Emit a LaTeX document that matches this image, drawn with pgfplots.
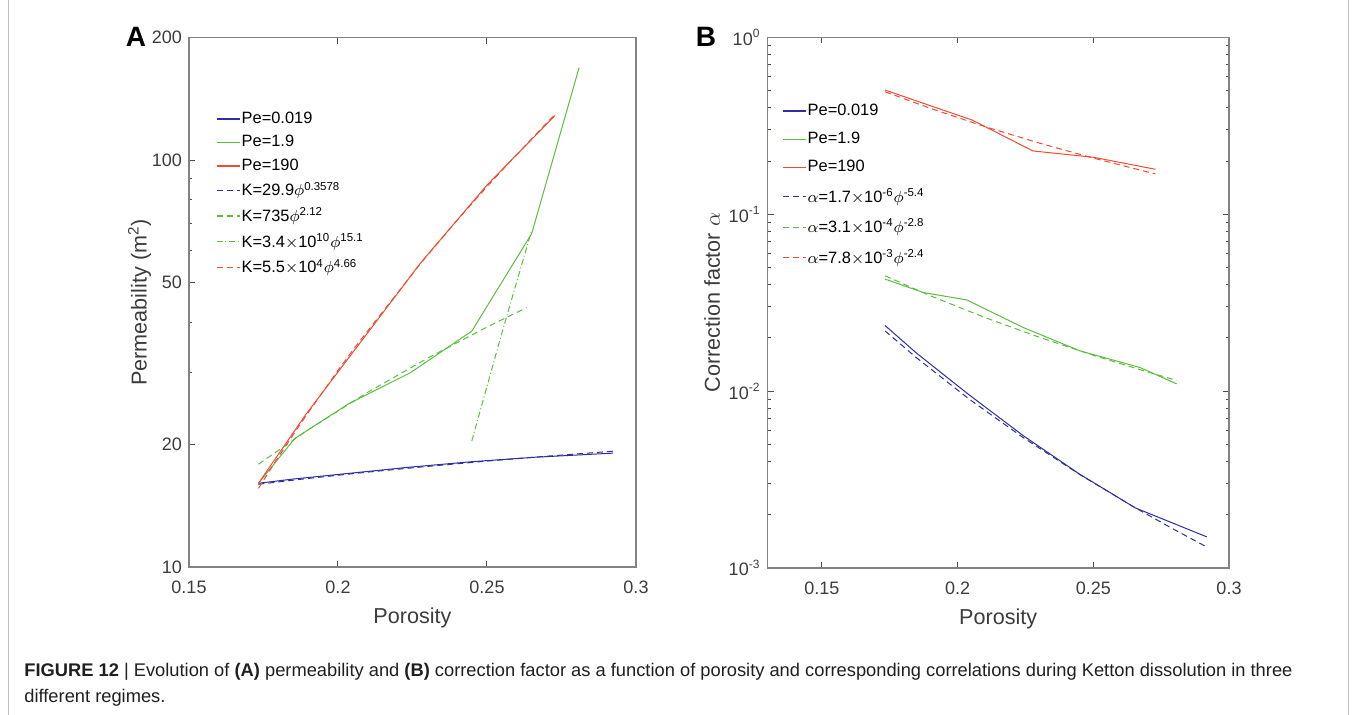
\documentclass[border=0pt]{standalone}
\usepackage{pgfplots}
\pgfplotsset{compat=1.18}
\usepackage{fontspec}
\setmainfont{Liberation Sans}
\definecolor{cblue}{RGB}{46,46,160}
\definecolor{cgreen}{RGB}{90,190,60}
\definecolor{cred}{RGB}{240,75,50}
\definecolor{axgray}{RGB}{130,130,130}
\definecolor{txtgray}{RGB}{60,60,60}
\tikzset{
 dsh/.style={dash pattern=on 3pt off 2pt},
 dshdot/.style={dash pattern=on 3pt off 1.3pt on 0.5pt off 1.3pt},
}
\begin{document}
\begin{tikzpicture}
\useasboundingbox (0,0) rectangle (678pt,-357.5pt);
\draw[black!25, line width=0.5pt] (4pt,0) -- (4pt,-357.5pt);
\draw[black!25, line width=0.5pt] (674pt,0) -- (674pt,-357.5pt);

% ---------------- Panel A ----------------
\begin{axis}[
  scale only axis, ymode=log,
  axis line style={axgray, line width=0.6pt},
  tick style={black!70, line width=0.5pt},
  major tick length=3pt, minor tick length=1.7pt,
  tick align=inside,
  ticklabel style={font=\fontsize{9}{10}\selectfont, text=txtgray},
  xticklabel style={yshift=-3.5pt},
  label style={font=\fontsize{10.8}{12}\selectfont, text=txtgray},
  ylabel style={yshift=-6.5pt},
  legend style={draw=none, fill=none, font=\fontsize{8.2}{9.5}\selectfont,
     anchor=north west, inner sep=0pt, nodes={inner sep=0.6pt}, at={(0.06,0.863)}, row sep=3.3pt},
  legend cell align=left,
  legend image code/.code={\draw[line width=0.65pt,#1] (0pt,0pt) -- (11.5pt,0pt);},
  every axis plot/.append style={line width=0.5pt},
  xtick={0.15,0.2,0.25,0.3}, xticklabels={0.15,0.2,0.25,0.3},
  at={(94.5pt,-283.5pt)}, anchor=south west,
  width=223.5pt, height=264.65pt,
  xmin=0.15, xmax=0.3, ymin=10, ymax=200,
  ytick={10,20,50,100,200}, yticklabels={10,20,50,100,200},
  minor ytick={30,40,60,70,80,90},
  ytick pos=left,
  xlabel={Porosity}, ylabel={Permeability (m\textsuperscript{2})},
]
\addplot[cblue] coordinates {(0.1733,16.06) (0.1849,16.45) (0.2040,17.00) (0.2242,17.60) (0.2449,18.15) (0.2654,18.60) (0.2923,19.05)};
\addlegendentry{Pe=0.019}
\addplot[cgreen] coordinates {(0.1733,16.06) (0.1855,20.7) (0.2040,25.3) (0.2242,30.0) (0.2449,38.0) (0.2650,66.0) (0.2809,168.8)};
\addlegendentry{Pe=1.9}
\addplot[cred] coordinates {(0.1733,16.06) (0.1890,23.6) (0.2054,34.0) (0.2278,56.0) (0.2501,87.0) (0.2728,128.7)};
\addlegendentry{Pe=190}
\addplot[cblue, dsh] coordinates {(0.1733,15.97) (0.19,16.51) (0.21,17.11) (0.23,17.67) (0.25,18.21) (0.27,18.72) (0.2923,19.26)};
\addlegendentry{K=29.9$\phi$\textsuperscript{0.3578}}
\addplot[cgreen, dsh] coordinates {(0.1733,17.89) (0.19,21.74) (0.21,26.88) (0.23,32.59) (0.25,38.89) (0.2633,43.4)};
\addlegendentry{K=735$\phi$\textsuperscript{2.12}}
\addplot[cgreen, dshdot] coordinates {(0.2449,20.4) (0.25,27.8) (0.255,37.6) (0.26,50.3) (0.265,67.2)};
\addlegendentry{K=3.4$\times$10\textsuperscript{10}$\phi$\textsuperscript{15.1}}
\addplot[cred, dsh] coordinates {(0.1733,15.61) (0.18,18.64) (0.189,23.38) (0.2,30.43) (0.2054,34.46) (0.2278,55.85) (0.24,71.2) (0.2501,86.24) (0.26,103.35) (0.2728,129.5)};
\addlegendentry{K=5.5$\times$10\textsuperscript{4}$\phi$\textsuperscript{4.66}}
\end{axis}

% ---------------- Panel B ----------------
\begin{axis}[
  scale only axis, ymode=log,
  axis line style={axgray, line width=0.6pt},
  tick style={black!70, line width=0.5pt},
  major tick length=3pt, minor tick length=1.7pt,
  tick align=inside,
  ticklabel style={font=\fontsize{9}{10}\selectfont, text=txtgray},
  xticklabel style={yshift=-3.5pt},
  label style={font=\fontsize{10.8}{12}\selectfont, text=txtgray},
  ylabel style={yshift=-2.5pt},
  legend style={draw=none, fill=none, font=\fontsize{8.2}{9.5}\selectfont,
     anchor=north west, inner sep=0pt, nodes={inner sep=0.6pt}, at={(0.031,0.878)}, row sep=5.7pt},
  legend cell align=left,
  legend image code/.code={\draw[line width=0.65pt,#1] (0pt,0pt) -- (11.5pt,0pt);},
  every axis plot/.append style={line width=0.5pt},
  xtick={0.15,0.2,0.25,0.3}, xticklabels={0.15,0.2,0.25,0.3},
  at={(383.75pt,-284pt)}, anchor=south west,
  width=230.75pt, height=265.3pt,
  xmin=0.13, xmax=0.3, ymin=0.001, ymax=1,
  ytick={0.001,0.01,0.1,1},
  yticklabels={10\textsuperscript{-3},10\textsuperscript{-2},10\textsuperscript{-1},10\textsuperscript{0}},
  minor ytick={0.002,0.003,0.004,0.005,0.006,0.007,0.008,0.009,0.02,0.03,0.04,0.05,0.06,0.07,0.08,0.09,0.2,0.3,0.4,0.5,0.6,0.7,0.8,0.9},
  xlabel={Porosity}, ylabel={Correction factor $\alpha$},
]
\addplot[cblue] coordinates {(0.1733,0.0235) (0.1849,0.0164) (0.2040,0.0096) (0.2242,0.0056) (0.2449,0.0034) (0.2654,0.00219) (0.2918,0.00150)};
\addlegendentry{Pe=0.019}
\addplot[cgreen] coordinates {(0.1733,0.0430) (0.1874,0.0361) (0.2034,0.0328) (0.2242,0.0229) (0.2451,0.0169) (0.2672,0.0136) (0.2807,0.0110)};
\addlegendentry{Pe=1.9}
\addplot[cred] coordinates {(0.1733,0.504) (0.189,0.416) (0.2054,0.341) (0.2278,0.228) (0.2501,0.210) (0.2729,0.1796)};
\addlegendentry{Pe=190}
\addplot[cblue, dsh] coordinates {(0.1733,0.0219) (0.1849,0.01544) (0.2040,0.00908) (0.2242,0.00546) (0.2449,0.003386) (0.2654,0.002193) (0.28,0.001644) (0.2918,0.001315)};
\addlegendentry{$\alpha$=1.7$\times$10\textsuperscript{-6}$\phi$\textsuperscript{-5.4}}
\addplot[cgreen, dsh] coordinates {(0.1733,0.0449) (0.19,0.0346) (0.21,0.0261) (0.23,0.0202) (0.25,0.01595) (0.27,0.01284) (0.2807,0.0115)};
\addlegendentry{$\alpha$=3.1$\times$10\textsuperscript{-4}$\phi$\textsuperscript{-2.8}}
\addplot[cred, dsh] coordinates {(0.1733,0.493) (0.19,0.397) (0.21,0.3134) (0.23,0.2530) (0.25,0.2078) (0.2729,0.169)};
\addlegendentry{$\alpha$=7.8$\times$10\textsuperscript{-3}$\phi$\textsuperscript{-2.4}}
\end{axis}

% panel letters
\node[font=\bfseries\fontsize{14}{15}\selectfont, anchor=base] at (68pt,-23.5pt) {A};
\node[font=\bfseries\fontsize{14}{15}\selectfont, anchor=base] at (353pt,-23.5pt) {B};

% caption
\node[anchor=base west, inner sep=0pt, font=\fontsize{9.15}{12}\selectfont, text=black!88] at (12pt,-338.5pt)
 {\textbf{FIGURE 12} | Evolution of \textbf{(A)} permeability and \textbf{(B)} correction factor as a function of porosity and corresponding correlations during Ketton dissolution in three};
\node[anchor=base west, inner sep=0pt, font=\fontsize{9.15}{12}\selectfont, text=black!88] at (12pt,-351.5pt)
 {different regimes.};
\end{tikzpicture}
\end{document}
